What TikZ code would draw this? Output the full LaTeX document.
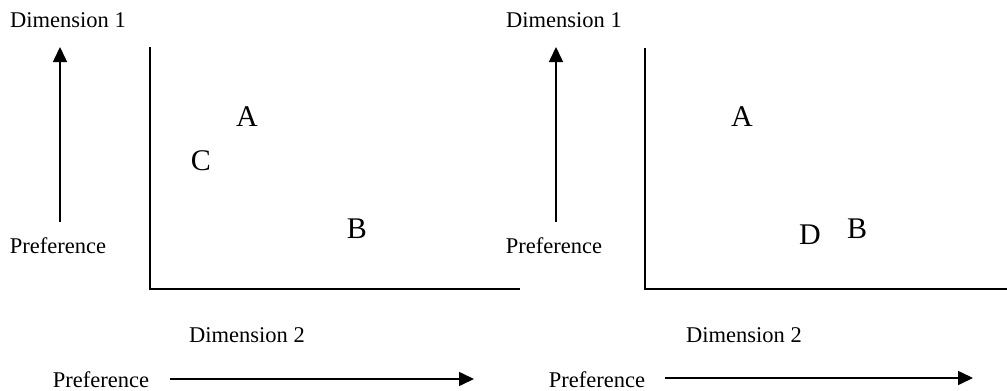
\documentclass[tikz,border=0pt]{standalone}
\usepackage{fontspec}
\setmainfont{Liberation Serif}
\usepackage{tikz}
\usetikzlibrary{positioning, arrows.meta}

\begin{document}
\begin{tikzpicture}[x=1pt, y=-1pt,
    lbl/.style={inner sep=0pt, font=\fontsize{22.5}{25}\selectfont},
    pt/.style={inner sep=0pt, font=\fontsize{30}{33}\selectfont},
    axis/.style={line width=1.6pt},
    pref/.style={line width=1.6pt, -{Triangle[length=15pt, width=14pt]}}]
    \useasboundingbox (0,0) rectangle (1007,391);

    % left map
    \node[lbl] (dimA) at (68,20) {Dimension 1};
    \node[lbl] (prefVA) at (58,246) {Preference};
    \coordinate (upA0) at (60,222);
    \coordinate (upA1) at (60,47);
    \draw[pref] (upA0) -- (upA1);
    \coordinate (oA) at (150,289);
    \draw[axis] (150,47) -- (oA) -- (520,289);
    \node[pt] (a1) at (247,117) {A};
    \node[pt] (c1) at (201,161) {C};
    \node[pt] (b1) at (357,229) {B};
    \node[lbl] (dimB) at (247,335) {Dimension 2};
    \node[lbl] (prefHA) at (101,380) {Preference};
    \coordinate (rtA0) at (170,379);
    \coordinate (rtA1) at (474,379);
    \draw[pref] (rtA0) -- (rtA1);

    % right map
    \node[lbl] (dimC) at (564,20) {Dimension 1};
    \node[lbl] (prefVB) at (554,246) {Preference};
    \coordinate (upB0) at (556,222);
    \coordinate (upB1) at (556,47);
    \draw[pref] (upB0) -- (upB1);
    \coordinate (oB) at (645,289);
    \draw[axis] (645,48) -- (oB) -- (1007,289);
    \node[pt] (a2) at (742,117) {A};
    \node[pt] (d2) at (810,235) {D};
    \node[pt] (b2) at (857,229) {B};
    \node[lbl] (dimD) at (744,335) {Dimension 2};
    \node[lbl] (prefHB) at (597,380) {Preference};
    \coordinate (rtB0) at (665,378);
    \coordinate (rtB1) at (973,378);
    \draw[pref] (rtB0) -- (rtB1);
\end{tikzpicture}
\end{document}
